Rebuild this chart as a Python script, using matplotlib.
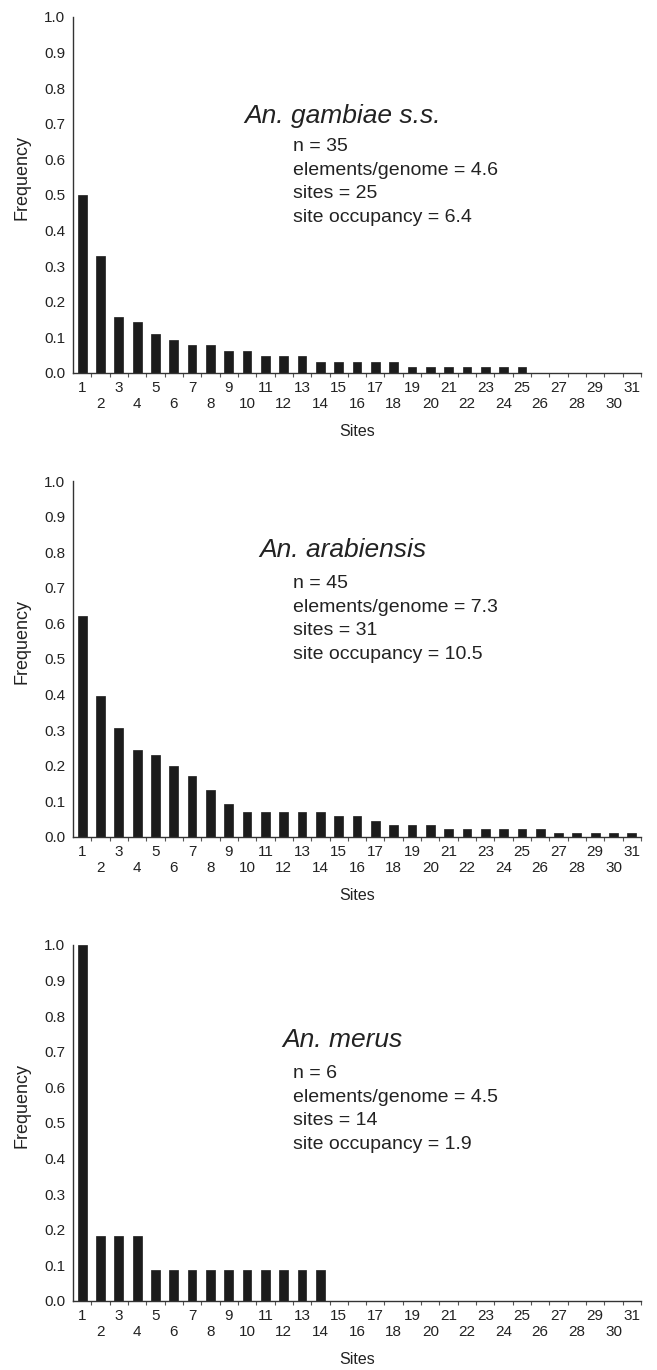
import matplotlib
matplotlib.use("Agg")
import matplotlib.pyplot as plt
import numpy as np

plt.rcParams['font.family'] = ['Liberation Sans', 'DejaVu Sans']

sites = list(range(1, 32))
site_labels = [str(s) for s in sites]

gambiae = [0.50, 0.33, 0.157, 0.143, 0.110, 0.093, 0.078, 0.078, 0.063, 0.063,
           0.047, 0.047, 0.047, 0.032, 0.032, 0.032, 0.032, 0.032, 0.017, 0.017,
           0.017, 0.017, 0.017, 0.017, 0.017, 0, 0, 0, 0, 0, 0]
arabiensis = [0.62, 0.395, 0.307, 0.244, 0.231, 0.200, 0.171, 0.132, 0.093, 0.070,
              0.070, 0.070, 0.070, 0.070, 0.059, 0.059, 0.046, 0.033, 0.033, 0.033,
              0.022, 0.022, 0.022, 0.022, 0.022, 0.022, 0.011, 0.011, 0.011, 0.011, 0.011]
merus = [1.0, 0.183, 0.183, 0.183, 0.087, 0.087, 0.087, 0.087, 0.087, 0.087,
         0.087, 0.087, 0.087, 0.087, 0, 0, 0, 0, 0, 0,
         0, 0, 0, 0, 0, 0, 0, 0, 0, 0, 0]

titles = ["An. gambiae s.s.", "An. arabiensis", "An. merus"]
stats = [
    ["n = 35", "elements/genome = 4.6", "sites = 25", "site occupancy = 6.4"],
    ["n = 45", "elements/genome = 7.3", "sites = 31", "site occupancy = 10.5"],
    ["n = 6", "elements/genome = 4.5", "sites = 14", "site occupancy = 1.9"],
]
series = [gambiae, arabiensis, merus]

W, H = 657, 1370
fig = plt.figure(figsize=(W / 100, H / 100), dpi=100)

# pixel layout: (top at 1.0, bottom at 0.0)
panels = [(17, 373), (481, 837), (945, 1301)]
left_px, right_px = 73, 641
title_y = [0.723, 0.805, 0.733]
stats_y0 = [0.636, 0.712, 0.639]

ink = "#1c1c1c"
txt = "#222222"
for i, (top, bot) in enumerate(panels):
    ax = fig.add_axes([left_px / W, 1 - bot / H, (right_px - left_px) / W, (bot - top) / H])
    ax.bar(sites, series[i], width=0.48, color=ink, edgecolor=ink, linewidth=0.5)
    ax.set_xlim(0.5, 31.5)
    ax.set_ylim(0, 1.0)
    for s in ["top", "right"]:
        ax.spines[s].set_visible(False)
    for s in ["left", "bottom"]:
        ax.spines[s].set_color("#333333")
        ax.spines[s].set_linewidth(1.0)
    yt = np.round(np.arange(0, 1.01, 0.1), 1)
    ax.set_yticks(yt)
    ax.set_yticklabels([f"{v:.1f}" for v in yt])
    ax.tick_params(axis="y", length=0, pad=5.5, labelsize=11, labelcolor=txt)
    labs = [l if (k % 2 == 0) else "\n" + l for k, l in enumerate(site_labels)]
    ax.set_xticks(sites)
    ax.set_xticklabels(labs, linespacing=1.2)
    ax.set_xticks(np.arange(1.5, 31.6, 1.0), minor=True)
    ax.tick_params(axis="x", which="major", length=0, pad=5.5, labelsize=11, labelcolor=txt)
    ax.tick_params(axis="x", which="minor", length=3, width=0.8, color="#555555", direction="out")
    ax.set_xlabel("Sites", fontsize=11.5, color=txt)
    ax.xaxis.set_label_coords(0.5, -0.165)
    ax.xaxis.label.set_va("center")
    ax.set_ylabel("Frequency", fontsize=13, color=txt)
    ax.yaxis.set_label_coords(-0.09, 0.55)
    ax.yaxis.label.set_va("center")

    ax.text(0.475, title_y[i], titles[i], transform=ax.transAxes, ha="center", va="center",
            fontsize=19, style="italic", color=txt)
    for j, line in enumerate(stats[i]):
        ax.text(0.387, stats_y0[i] - j * 0.066, line,
                transform=ax.transAxes, ha="left", va="center", fontsize=14,
                color=txt)

fig.savefig("out.png", dpi=100)
